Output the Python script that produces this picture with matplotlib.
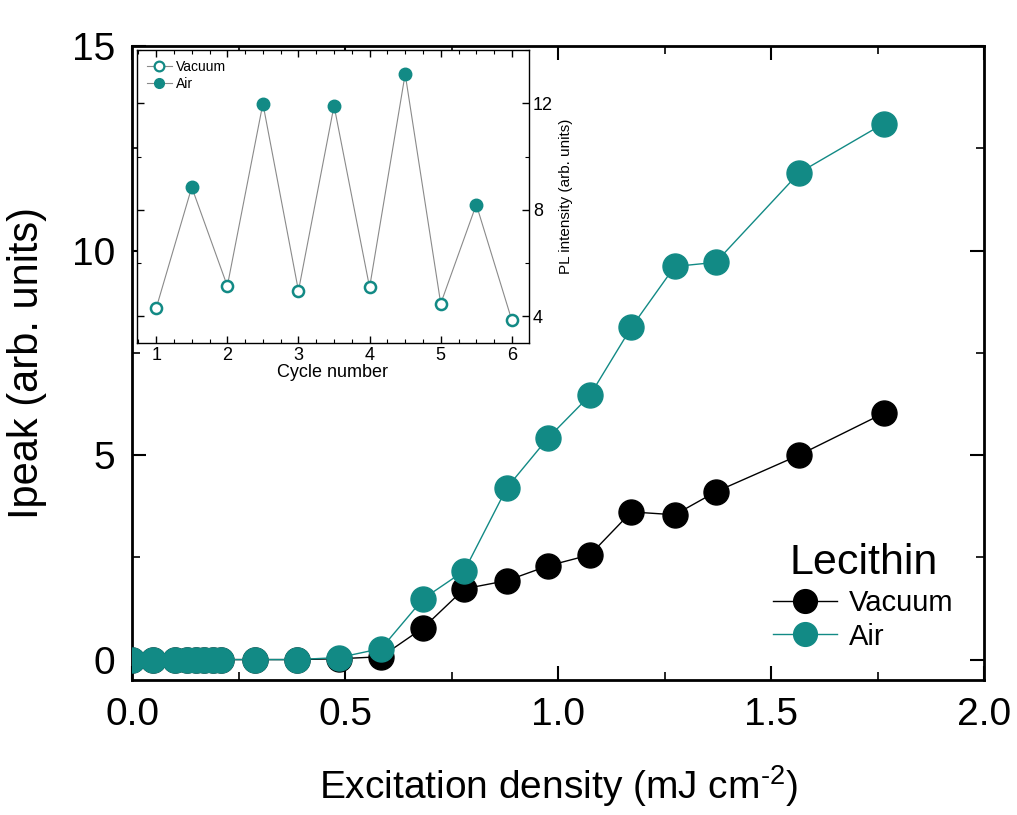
import matplotlib
matplotlib.use("Agg")
import matplotlib.pyplot as plt
from matplotlib.ticker import MultipleLocator, FormatStrFormatter
from matplotlib.lines import Line2D

plt.rcParams['font.family'] = ['Liberation Sans', 'DejaVu Sans']
plt.rcParams['mathtext.fontset'] = 'custom'
plt.rcParams['mathtext.rm'] = 'Liberation Sans'
plt.rcParams['mathtext.it'] = 'Liberation Sans'
plt.rcParams['axes.unicode_minus'] = False

TEAL = '#128a85'

# Main panel data
dens_low = [0.0, 0.05, 0.10, 0.13, 0.15, 0.17, 0.19, 0.21]
dens_high = [0.288, 0.387, 0.486, 0.585, 0.684, 0.78, 0.88, 0.976, 1.075, 1.172, 1.274, 1.37, 1.566, 1.764]
density = dens_low + dens_high
vacuum_ipeak = [0.0] * 8 + [0.0, 0.0, 0.02, 0.07, 0.78, 1.73, 1.93, 2.29, 2.56, 3.61, 3.54, 4.10, 5.00, 6.02]
air_ipeak = [0.0] * 8 + [0.0, 0.0, 0.05, 0.27, 1.49, 2.17, 4.20, 5.41, 6.46, 8.12, 9.61, 9.71, 11.90, 13.10]

# Inset data
cycle_vac = [1, 2, 3, 4, 5, 6]
pl_vac = [4.31, 5.14, 4.96, 5.09, 4.48, 3.85]
cycle_air = [1.5, 2.5, 3.5, 4.5, 5.5]
pl_air = [8.85, 11.99, 11.91, 13.10, 8.20]

fig = plt.figure(figsize=(10.17, 8.15), dpi=100)
ax = fig.add_axes([0.1298, 0.1656, 0.8378, 0.778])

ax.plot(density, vacuum_ipeak, '-', color='black', lw=1.0, marker='o', ms=18,
        mfc='black', mec='black', label='Vacuum', zorder=3)
ax.plot(density, air_ipeak, '-', color=TEAL, lw=1.0, marker='o', ms=18,
        mfc=TEAL, mec=TEAL, label='Air', zorder=4)

ax.set_xlim(0, 2.0)
ax.set_ylim(-0.5, 15)
ax.xaxis.set_major_locator(MultipleLocator(0.5))
ax.xaxis.set_minor_locator(MultipleLocator(0.25))
ax.yaxis.set_major_locator(MultipleLocator(5))
ax.yaxis.set_minor_locator(MultipleLocator(2.5))
ax.tick_params(which='both', direction='in', top=True, right=True, labelsize=28, pad=12)
ax.tick_params(which='major', length=10, width=1.5)
ax.tick_params(which='minor', length=6, width=1.2)
ax.xaxis.set_major_formatter(FormatStrFormatter('%.1f'))
for s in ax.spines.values():
    s.set_linewidth(2)
ax.set_xlabel('Excitation density (mJ cm$^{\\text{-2}}$)', fontsize=28, labelpad=22)
ax.set_ylabel('Ipeak (arb. units)', fontsize=30, labelpad=18)

leg = ax.legend(title='Lecithin', loc='lower right', bbox_to_anchor=(0.995, 0.005),
                frameon=False, fontsize=21, title_fontsize=31, markerscale=0.95,
                handlelength=2.2, handletextpad=0.4, labelspacing=0.2)

# Inset
axi = fig.add_axes([0.1347, 0.5791, 0.3854, 0.3595])
axi.set_facecolor('white')
order_x = []
order_y = []
for i in range(len(cycle_vac)):
    order_x.append(cycle_vac[i]); order_y.append(pl_vac[i])
    if i < len(cycle_air):
        order_x.append(cycle_air[i]); order_y.append(pl_air[i])
axi.plot(order_x, order_y, '-', color='#8a8a8a', lw=0.8, zorder=2)
axi.plot(cycle_vac, pl_vac, 'o', ms=8, mfc='white', mec=TEAL, mew=1.8, zorder=3)
axi.plot(cycle_air, pl_air, 'o', ms=9, mfc=TEAL, mec=TEAL, zorder=3)
axi.set_xlim(0.73, 6.24)
axi.set_ylim(3.0, 14.0)
axi.xaxis.set_major_locator(MultipleLocator(1))
axi.xaxis.set_minor_locator(MultipleLocator(0.25))
axi.yaxis.set_major_locator(MultipleLocator(4))
axi.yaxis.set_minor_locator(MultipleLocator(2))
axi.yaxis.tick_right()
axi.yaxis.set_label_position('right')
axi.tick_params(which='both', direction='in', top=True, left=True, right=True, labelsize=13, pad=3)
axi.tick_params(which='major', length=5, width=1)
axi.tick_params(which='minor', length=3, width=0.8)
for s in axi.spines.values():
    s.set_linewidth(1.0)
axi.set_xlabel('Cycle number', fontsize=13, labelpad=0)
axi.set_ylabel('PL intensity (arb. units)', fontsize=11, labelpad=4)
h1 = Line2D([], [], color='#8a8a8a', lw=0.8, marker='o', ms=7, mfc='white', mec=TEAL, mew=1.6)
h2 = Line2D([], [], color='#8a8a8a', lw=0.8, marker='o', ms=7, mfc=TEAL, mec=TEAL)
axi.legend([h1, h2], ['Vacuum', 'Air'], loc='upper left', frameon=False, fontsize=10,
           handlelength=1.8, handletextpad=0.3, labelspacing=0.2, borderaxespad=0.3)

fig.savefig('out.png', dpi=100)
